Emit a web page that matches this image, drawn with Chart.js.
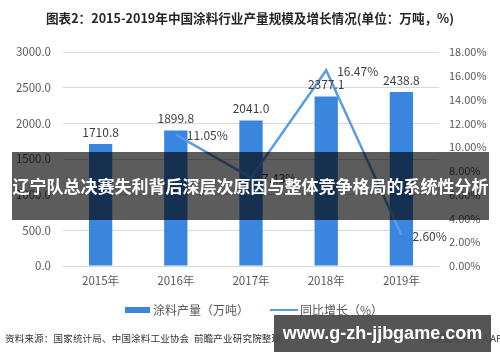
<!DOCTYPE html>
<html>
<head>
<meta charset="utf-8">
<script src="https://cdn.jsdelivr.net/npm/chart.js@4/dist/chart.umd.min.js"></script>
<style>
  html, body { margin: 0; padding: 0; background: #fff; }
  #wrap { position: relative; width: 500px; height: 362px; overflow: hidden; font-family: "Noto Sans CJK SC", sans-serif; }
  #c { position: absolute; left: 0; top: 0; }
  .abs { position: absolute; white-space: nowrap; }
  #title { left: 0; width: 500px; top: 8px; text-align: center; font-size: 12.6px; font-weight: bold; color: #262626; }
  .leg { font-size: 12px; color: #595959; top: 301px; }
  #src { left: 5px; top: 331px; font-size: 9.5px; color: #333; letter-spacing: 0.2px; }
  #src2 { right: -8px; top: 331px; font-size: 9.5px; color: #333; }
  #banner { left: 12px; top: 152px; width: 477px; height: 68px; background: rgba(0,0,0,0.64); color: #fff; font-weight: bold; font-size: 17px; line-height: 68px; text-align: center; z-index: 5; }
  #wm { left: 274px; top: 315px; width: 217px; height: 37px; background: rgba(70,70,70,0.92); color: #fff; font-weight: bold; font-size: 18px; line-height: 37px; text-align: center; z-index: 5; font-family: "Liberation Sans", Arial, sans-serif; }
</style>
</head>
<body>
<div id="wrap">
  <canvas id="c" width="500" height="362"></canvas>
  <div id="title" class="abs">图表2：2015-2019年中国涂料行业产量规模及增长情况(单位：万吨，%)</div>
  <div class="abs" style="left:125px;top:307px;width:25px;height:6px;background:#3a86de;"></div>
  <div class="abs leg" style="left:153px;">涂料产量（万吨）</div>
  <div class="abs" style="left:270px;top:309px;width:28px;height:2px;background:#5a9be6;"></div>
  <div class="abs leg" style="left:300px;">同比增长（%）</div>
  <div id="src" class="abs">资料来源：国家统计局、中国涂料工业协会&nbsp;&nbsp;前瞻产业研究院整理</div>
  <div id="src2" class="abs">@前瞻经济学人APP</div>
  <div id="banner" class="abs">辽宁队总决赛失利背后深层次原因与整体竞争格局的系统性分析</div>
  <div id="wm" class="abs">www.g-zh-jjbgame.com</div>
</div>
<script>
const categories = ['2015年', '2016年', '2017年', '2018年', '2019年'];
const production = [1710.8, 1899.8, 2041.0, 2377.1, 2438.8];
const growth = [null, 11.05, 7.43, 16.47, 2.60];
const leftTicks = { min: 0, max: 3000, step: 500 };
const rightTicks = { min: 0, max: 18, step: 2 };

const FONT = '"Noto Sans CJK SC", sans-serif';

const labelPlugin = {
  id: 'valueLabels',
  afterDatasetsDraw(chart) {
    const ctx = chart.ctx;
    ctx.save();
    ctx.font = '12px ' + FONT;
    ctx.fillStyle = '#404040';
    const barMeta = chart.getDatasetMeta(0);
    ctx.textAlign = 'center';
    ctx.textBaseline = 'middle';
    barMeta.data.forEach((el, i) => {
      ctx.fillText(production[i].toFixed(1), el.x, el.y - 12);
    });
    const lineMeta = chart.getDatasetMeta(1);
    ctx.textAlign = 'left';
    lineMeta.data.forEach((el, i) => {
      if (growth[i] === null) return;
      ctx.fillText(growth[i].toFixed(2) + '%', el.x + 11, el.y + 1);
    });
    ctx.restore();
  }
};

new Chart(document.getElementById('c'), {
  type: 'bar',
  data: {
    labels: categories,
    datasets: [
      {
        type: 'bar',
        label: '涂料产量（万吨）',
        data: production,
        backgroundColor: '#3a86de',
        yAxisID: 'y',
        categoryPercentage: 1,
        barPercentage: 0.31,
        order: 2
      },
      {
        type: 'line',
        label: '同比增长（%）',
        data: growth,
        borderColor: '#5a9be6',
        borderWidth: 2.5,
        pointRadius: 0,
        tension: 0,
        fill: false,
        yAxisID: 'y1',
        order: 1
      }
    ]
  },
  options: {
    responsive: false,
    animation: false,
    devicePixelRatio: 1,
    layout: { padding: { top: 52, left: 0, right: 0, bottom: 66 } },
    plugins: { legend: { display: false }, title: { display: false }, tooltip: { enabled: false } },
    scales: {
      x: {
        grid: { display: false, drawTicks: false },
        border: { display: false },
        ticks: { color: '#595959', font: { family: FONT, size: 11.5 }, padding: 8 },
        afterFit(s) { s.height = 30; }
      },
      y: {
        position: 'left',
        min: leftTicks.min, max: leftTicks.max,
        grid: { color: '#d9d9d9', drawTicks: false },
        border: { display: false },
        ticks: { stepSize: leftTicks.step, color: '#595959', font: { family: FONT, size: 11.5 }, padding: 12,
          callback: v => Number(v).toFixed(1) },
        afterFit(s) { s.width = 63; }
      },
      y1: {
        position: 'right',
        min: rightTicks.min, max: rightTicks.max,
        grid: { display: false, drawTicks: false },
        border: { display: false },
        ticks: { stepSize: rightTicks.step, color: '#595959', font: { family: FONT, size: 11 }, padding: 10,
          callback: v => Number(v).toFixed(2) + '%' },
        afterFit(s) { s.width = 61; }
      }
    }
  },
  plugins: [labelPlugin]
});
</script>
</body>
</html>
